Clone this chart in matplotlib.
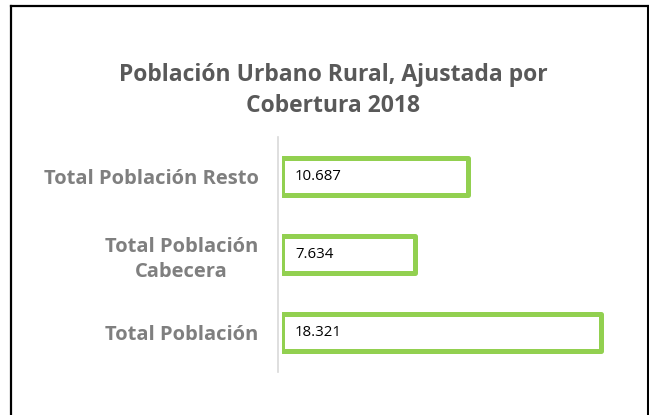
import matplotlib
matplotlib.use("Agg")
import matplotlib.pyplot as plt
from matplotlib.lines import Line2D

# data
categories = ["Total Población", "Total Población\nCabecera", "Total Población Resto"]
values = [18321, 7634, 10687]
value_labels = ["18.321", "7.634", "10.687"]
title = "Población Urbano Rural, Ajustada por\nCobertura 2018"

plt.rcParams["font.family"] = ["Open Sans", "DejaVu Sans"]

W, H = 649, 415
fig = plt.figure(figsize=(W / 100, H / 100), dpi=100)

# axes placed in pixel units (left, top, width, height)
ax_left, ax_top, ax_w, ax_h = 282, 137, 340, 235
ax = fig.add_axes([ax_left / W, 1 - (ax_top + ax_h) / H, ax_w / W, ax_h / H])

green = "#92D050"
bars = ax.barh(range(len(values)), values, height=0.47, color="white",
               edgecolor=green, linewidth=3.6)
for b in bars:
    b.set_joinstyle("round")

# value labels inside bars
for i, (v, lab) in enumerate(zip(values, value_labels)):
    ax.annotate(lab, xy=(0, i), xytext=(13, 0), textcoords="offset pixels",
                ha="left", va="center", fontsize=10.8, color="black")

ax.set_xlim(0, 18321 * ax_w / 318.5)
ax.set_ylim(-0.5, 2.5)

# spines first: set_position resets the ticks
for s in ["top", "right", "bottom"]:
    ax.spines[s].set_visible(False)
ax.spines["left"].set_color("#D9D9D9")
ax.spines["left"].set_linewidth(1.2)
ax.spines["left"].set_position(("outward", 3))

ax.set_xticks([])
ax.tick_params(axis="y", length=0, pad=14)
ax.set_yticks(range(len(categories)))
ax.set_yticklabels(categories, fontsize=14.5, fontweight="bold", color="#7F7F7F",
                   multialignment="center", linespacing=1.3)

fig.text(333 / W, 1 - 90.5 / H, title, ha="center", va="center",
         fontsize=16.5, fontweight="bold", color="#595959", linespacing=1.35)

# outer frame (open at the bottom)
def fig_line(xs, ys, lw):
    fig.add_artist(Line2D([x / W for x in xs], [1 - y / H for y in ys],
                          color="black", linewidth=lw, transform=fig.transFigure))

fig_line([11, 11], [6, 420], 1.6)
fig_line([11, 648], [6, 6], 1.6)
fig_line([647.5, 647.5], [6, 420], 2.2)

fig.savefig("out.png", dpi=100)
